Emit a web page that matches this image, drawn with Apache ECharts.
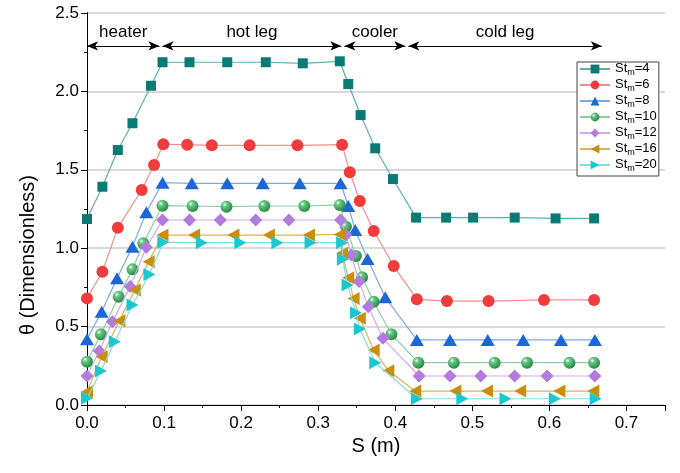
<!DOCTYPE html>
<html><head><meta charset="utf-8">
<script src="https://cdn.jsdelivr.net/npm/echarts@6/dist/echarts.min.js"></script>
<style>html,body{margin:0;padding:0;background:#fff}#c{width:680px;height:473px}</style>
</head><body><div id="c"></div><script>
// ---- data ----
const stNames = ['4','6','8','10','12','16','20'];

const xSt4 = [0, 0.020, 0.040, 0.059, 0.083, 0.098, 0.133, 0.182, 0.232, 0.280, 0.328, 0.339, 0.355, 0.374, 0.397, 0.427, 0.466, 0.501, 0.555, 0.608, 0.658];
const ySt4 = [1.186, 1.392, 1.626, 1.797, 2.036, 2.186, 2.186, 2.186, 2.186, 2.179, 2.192, 2.047, 1.849, 1.637, 1.441, 1.195, 1.195, 1.195, 1.195, 1.190, 1.190];

const xSt6 = [0, 0.020, 0.040, 0.071, 0.087, 0.099, 0.130, 0.162, 0.211, 0.273, 0.331, 0.341, 0.354, 0.372, 0.398, 0.428, 0.467, 0.521, 0.593, 0.658];
const ySt6 = [0.680, 0.850, 1.131, 1.371, 1.531, 1.663, 1.660, 1.656, 1.656, 1.656, 1.660, 1.484, 1.301, 1.110, 0.886, 0.674, 0.663, 0.663, 0.670, 0.670];

const xSt8 = [0, 0.019, 0.039, 0.059, 0.077, 0.098, 0.136, 0.182, 0.228, 0.276, 0.329, 0.339, 0.348, 0.364, 0.387, 0.428, 0.471, 0.520, 0.566, 0.615, 0.659];
const ySt8 = [0.420, 0.595, 0.808, 1.010, 1.229, 1.418, 1.414, 1.414, 1.414, 1.414, 1.414, 1.269, 1.116, 0.931, 0.687, 0.415, 0.415, 0.415, 0.415, 0.415, 0.415];

const xSt10 = [0, 0.018, 0.041, 0.059, 0.073, 0.098, 0.137, 0.181, 0.230, 0.282, 0.328, 0.336, 0.349, 0.357, 0.372, 0.395, 0.430, 0.476, 0.529, 0.571, 0.626, 0.658];
const ySt10 = [0.276, 0.451, 0.691, 0.865, 1.031, 1.271, 1.269, 1.265, 1.269, 1.269, 1.276, 1.137, 0.950, 0.814, 0.659, 0.451, 0.270, 0.270, 0.270, 0.270, 0.270, 0.270];

const xSt12 = [0, 0.016, 0.033, 0.056, 0.077, 0.098, 0.133, 0.173, 0.219, 0.262, 0.329, 0.336, 0.343, 0.353, 0.365, 0.384, 0.431, 0.471, 0.511, 0.555, 0.597, 0.659];
const ySt12 = [0.185, 0.344, 0.531, 0.755, 1.006, 1.180, 1.180, 1.180, 1.180, 1.180, 1.180, 1.084, 0.957, 0.787, 0.627, 0.425, 0.185, 0.185, 0.185, 0.185, 0.185, 0.185];

const xSt16 = [0, 0.019, 0.042, 0.062, 0.080, 0.098, 0.139, 0.190, 0.236, 0.288, 0.328, 0.331, 0.339, 0.346, 0.354, 0.372, 0.391, 0.426, 0.478, 0.519, 0.562, 0.613, 0.657];
const ySt16 = [0.085, 0.308, 0.538, 0.733, 0.914, 1.084, 1.084, 1.084, 1.084, 1.084, 1.088, 0.967, 0.812, 0.680, 0.553, 0.351, 0.219, 0.089, 0.089, 0.089, 0.089, 0.089, 0.089];

const xSt20 = [0, 0.018, 0.036, 0.059, 0.081, 0.099, 0.149, 0.199, 0.247, 0.290, 0.331, 0.332, 0.338, 0.349, 0.354, 0.374, 0.428, 0.487, 0.543, 0.607, 0.660];
const ySt20 = [0.043, 0.217, 0.404, 0.638, 0.833, 1.038, 1.035, 1.035, 1.035, 1.035, 1.035, 0.929, 0.765, 0.589, 0.485, 0.270, 0.040, 0.040, 0.040, 0.040, 0.040];

const regionNames = ['heater', 'hot leg', 'cooler', 'cold leg'];
const regionStart = [0, 0.098, 0.334, 0.417];
const regionEnd = [0.094, 0.330, 0.413, 0.668];
const arrowLevel = 2.29;

const xTickLabels = ['0.0','0.1','0.2','0.3','0.4','0.5','0.6','0.7'];
const yTickLabels = ['0.0','0.5','1.0','1.5','2.0','2.5'];

// ---- build ----
const FONT = '"Liberation Sans", Arial, sans-serif';
const xs = [xSt4, xSt6, xSt8, xSt10, xSt12, xSt16, xSt20];
const ys = [ySt4, ySt6, ySt8, ySt10, ySt12, ySt16, ySt20];
const sphere = {type:'radial', x:0.35, y:0.32, r:0.75, colorStops:[
  {offset:0, color:'#f4fff6'}, {offset:0.25, color:'#6cc985'}, {offset:0.7, color:'#3a9f58'}, {offset:1, color:'#2a7f44'}]};
const styles = [
  {symbol:'rect', size:10, rot:0, mc:'#0a7b74', lc:'#5fb0aa'},
  {symbol:'circle', size:12, rot:0, mc:'#ef3d3d', lc:'#f08f8f'},
  {symbol:'triangle', size:[14,12], rot:0, mc:'#1c67d6', lc:'#7fa9e6'},
  {symbol:'circle', size:12, rot:0, mc:sphere, lc:'#8fcfa2'},
  {symbol:'diamond', size:[13,13], rot:0, mc:'#b27be0', lc:'#cfaaee'},
  {symbol:'triangle', size:[13,12], rot:90, mc:'#c98f0b', lc:'#dcb25a'},
  {symbol:'triangle', size:[13,12], rot:-90, mc:'#1bc8d2', lc:'#80dde3'}
];
const seriesNames = stNames.map(n => 'St_m=' + n);
const series = stNames.map((n, k) => ({
  type:'line', name: seriesNames[k],
  data: xs[k].map((x, i) => [x, ys[k][i]]),
  symbol: styles[k].symbol, symbolSize: styles[k].size, symbolRotate: styles[k].rot,
  showSymbol: true, showAllSymbol: true,
  itemStyle: {color: styles[k].mc},
  lineStyle: {color: styles[k].lc, width: 1.2},
  z: 3 + k
}));
series.push({
  type:'line', name:'regions', data: [], silent:true,
  markLine: {
    silent: true, animation: false,
    symbol: ['arrow','arrow'], symbolSize: [7, 11],
    lineStyle: {color:'#000', width:1, type:'solid'},
    label: {show:true, position:'insideMiddleTop', distance:5, color:'#000', fontSize:17, fontFamily:FONT,
      formatter: p => p.name},
    emphasis: {disabled: true},
    data: regionNames.map((nm, i) => [{name: nm, coord:[regionStart[i], arrowLevel]}, {coord:[regionEnd[i], arrowLevel]}])
  }
});

const axisCommon = {
  axisLine: {show:true, lineStyle:{color:'#000', width:1}},
  axisTick: {show:true, inside:false, length:6, lineStyle:{color:'#000'}},
  minorTick: {show:true, splitNumber:2, length:3, lineStyle:{color:'#000'}},
  axisLabel: {color:'#000', fontSize:17, fontFamily:FONT}
};

const option = {
  animation: false,
  backgroundColor: '#fff',
  grid: {left:87, right:15, top:13, bottom:68, containLabel:false},
  legend: {
    data: seriesNames,
    orient: 'vertical', left: 577, top: 62,
    padding: [0, 2, 3, 2], itemGap: 1, itemWidth: 30, itemHeight: 11,
    backgroundColor: '#fff', borderColor: '#444', borderWidth: 1, borderRadius: 0,
    formatter: name => '{a|St}{b|m}{a|' + name.slice(4) + '}',
    textStyle: {color:'#000', fontFamily:FONT, fontSize:13,
      rich: {a:{fontSize:13, fontFamily:FONT, color:'#000', lineHeight:14, verticalAlign:'top'},
             b:{fontSize:9, fontFamily:FONT, color:'#000', lineHeight:14, verticalAlign:'top', padding:[6,0,0,0]}}}
  },
  xAxis: [{
    type:'value', min:0, max:0.75, interval:0.1,
    ...axisCommon,
    axisLabel: {...axisCommon.axisLabel, margin:10, formatter: v => { const i = Math.round(v*10); return (Math.abs(v - i/10) < 1e-6 && i < xTickLabels.length) ? xTickLabels[i] : ''; }},
    splitLine: {show:false},
    name: 'S (m)', nameLocation:'middle', nameGap:26,
    nameTextStyle: {color:'#000', fontSize:20, fontFamily:FONT, verticalAlign:'top'}
  }, {
    type:'value', min:0, max:0.75, position:'top',
    axisLine:{show:true, lineStyle:{color:'#000', width:1}}, axisTick:{show:false}, axisLabel:{show:false}, splitLine:{show:false}
  }],
  yAxis: [{
    type:'value', min:0, max:2.5, interval:0.5,
    ...axisCommon,
    axisLabel: {...axisCommon.axisLabel, margin:8, formatter: v => { const i = Math.round(v*2); return yTickLabels[i] || ''; }},
    splitLine: {show:true, lineStyle:{color:'#cccccc', width:1.5}}
  }, {
    type:'value', min:0, max:2.5, position:'right',
    axisLine:{show:true, lineStyle:{color:'#000', width:1}}, axisTick:{show:false}, axisLabel:{show:false}, splitLine:{show:false}
  }],
  graphic: [{
    type:'text', x:28, y:255, rotation: Math.PI/2,
    style:{text:'θ (Dimensionless)', fill:'#000', font:'20px ' + FONT, textAlign:'center', textVerticalAlign:'middle'}
  }],
  series: series
};
const chart = echarts.init(document.getElementById('c'), null, {renderer:'canvas'});
chart.setOption(option);
</script></body></html>
